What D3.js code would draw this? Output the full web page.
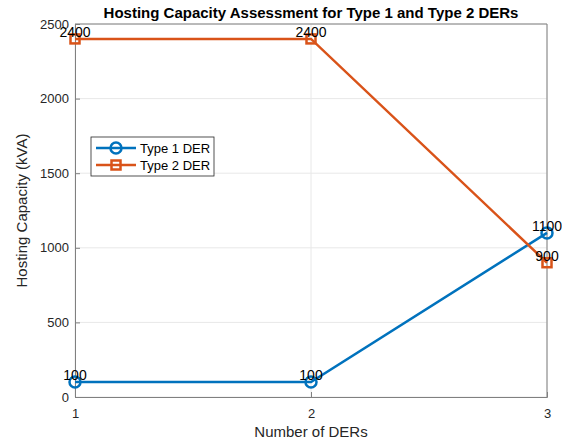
<!DOCTYPE html>
<html>
<head>
<meta charset="utf-8">
<script src="https://cdn.jsdelivr.net/npm/d3@7"></script>
<style>
  body { margin: 0; background: #fff; }
  text { font-family: Arial, "Liberation Sans", Helvetica, sans-serif; }
</style>
</head>
<body>
<div id="chart"></div>
<script>
const numDERs = [1, 2, 3];
const type1 = [100, 100, 1100];
const type2 = [2400, 2400, 900];
const yTicks = [0, 500, 1000, 1500, 2000, 2500];
const seriesNames = ["Type 1 DER", "Type 2 DER"];

const W = 562, H = 443;
const margin = { top: 24, right: 15, bottom: 46, left: 75 };
const width = W - margin.left - margin.right;
const height = H - margin.top - margin.bottom;

const blue = "#0072BD", orange = "#D95319";
const axisCol = "#808080";

const svg = d3.select("#chart").append("svg")
  .attr("width", W).attr("height", H);

const g = svg.append("g")
  .attr("transform", `translate(${margin.left},${margin.top})`);

const x = d3.scaleLinear().domain([1, 3]).range([0, width]);
const y = d3.scaleLinear().domain([0, 2500]).range([height, 0]);

// grid
g.selectAll(".gy").data(yTicks).enter().append("line")
  .attr("x1", 0).attr("x2", width)
  .attr("y1", d => y(d)).attr("y2", d => y(d))
  .attr("stroke", "#e8e8e8").attr("stroke-width", 1);
g.selectAll(".gx").data(numDERs).enter().append("line")
  .attr("y1", 0).attr("y2", height)
  .attr("x1", d => x(d)).attr("x2", d => x(d))
  .attr("stroke", "#e8e8e8").attr("stroke-width", 1);

// axes
const xAxis = g.append("g")
  .attr("transform", `translate(0,${height})`)
  .call(d3.axisBottom(x).tickValues(numDERs).tickFormat(d3.format("d")).tickSize(-5).tickPadding(12));
const yAxis = g.append("g")
  .call(d3.axisLeft(y).tickValues(yTicks).tickFormat(d3.format("d")).tickSize(-5).tickPadding(6));
[xAxis, yAxis].forEach(a => {
  a.select(".domain").attr("stroke", axisCol);
  a.selectAll(".tick line").attr("stroke", axisCol);
  a.selectAll(".tick text").attr("fill", "#262626").attr("font-size", 13);
});

// box top/right
g.append("line").attr("x1", 0).attr("x2", width).attr("y1", 0).attr("y2", 0)
  .attr("stroke", axisCol);
g.append("line").attr("x1", width).attr("x2", width).attr("y1", 0).attr("y2", height)
  .attr("stroke", axisCol);

const line = d3.line().x((d, i) => x(numDERs[i])).y(d => y(d));

// series
g.append("path").datum(type1).attr("d", line)
  .attr("fill", "none").attr("stroke", blue).attr("stroke-width", 2.5);
g.append("path").datum(type2).attr("d", line)
  .attr("fill", "none").attr("stroke", orange).attr("stroke-width", 2.5);

g.selectAll(".m1").data(type1).enter().append("circle")
  .attr("cx", (d, i) => x(numDERs[i])).attr("cy", d => y(d)).attr("r", 5.5)
  .attr("fill", "none").attr("stroke", blue).attr("stroke-width", 2.5);
g.selectAll(".m2").data(type2).enter().append("rect")
  .attr("x", (d, i) => x(numDERs[i]) - 4.5).attr("y", d => y(d) - 4.5)
  .attr("width", 9).attr("height", 9)
  .attr("fill", "none").attr("stroke", orange).attr("stroke-width", 2.5);

// data labels
[type1, type2].forEach(s => {
  g.selectAll(null).data(s).enter().append("text")
    .attr("x", (d, i) => x(numDERs[i])).attr("y", d => y(d) - 2)
    .attr("text-anchor", "middle").attr("font-size", 14).attr("fill", "#000")
    .text(d => d);
});

// title and labels
svg.append("text").attr("x", margin.left + width / 2).attr("y", 18)
  .attr("text-anchor", "middle").attr("font-size", 15).attr("font-weight", "bold")
  .attr("fill", "#000").text("Hosting Capacity Assessment for Type 1 and Type 2 DERs");
svg.append("text").attr("x", margin.left + width / 2).attr("y", H - 6)
  .attr("text-anchor", "middle").attr("font-size", 15).attr("fill", "#262626")
  .text("Number of DERs");
svg.append("text")
  .attr("transform", `translate(27,${margin.top + height / 2}) rotate(-90)`)
  .attr("text-anchor", "middle").attr("font-size", 15).attr("fill", "#262626")
  .text("Hosting Capacity (kVA)");

// legend
const lg = svg.append("g").attr("transform", "translate(91,137)");
lg.append("rect").attr("width", 123).attr("height", 39)
  .attr("fill", "#fff").attr("stroke", "#262626").attr("stroke-width", 0.8);
[blue, orange].forEach((c, i) => {
  const yy = 11 + i * 17;
  lg.append("line").attr("x1", 5).attr("x2", 45).attr("y1", yy).attr("y2", yy)
    .attr("stroke", c).attr("stroke-width", 2.5);
  if (i === 0) {
    lg.append("circle").attr("cx", 25).attr("cy", yy).attr("r", 5.5)
      .attr("fill", "none").attr("stroke", c).attr("stroke-width", 2.5);
  } else {
    lg.append("rect").attr("x", 20.5).attr("y", yy - 4.5).attr("width", 9).attr("height", 9)
      .attr("fill", "none").attr("stroke", c).attr("stroke-width", 2.5);
  }
  lg.append("text").attr("x", 49).attr("y", yy + 4.5).attr("font-size", 13)
    .attr("fill", "#000").text(seriesNames[i]);
});
</script>
</body>
</html>
